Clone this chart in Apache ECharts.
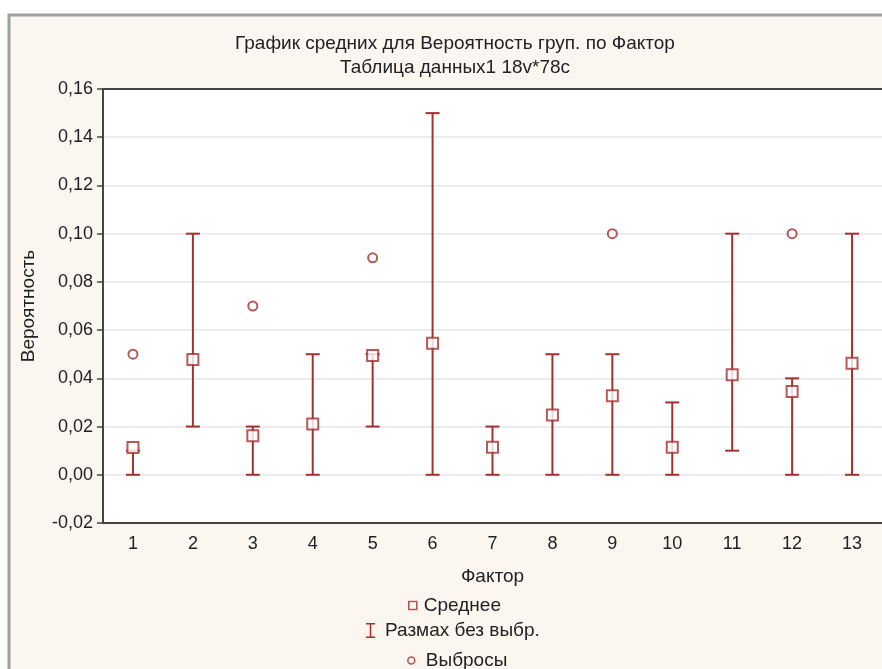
<!DOCTYPE html>
<html>
<head>
<meta charset="utf-8">
<script src="https://cdn.jsdelivr.net/npm/echarts@6/dist/echarts.min.js"></script>
<style>html,body{margin:0;padding:0;background:#fff}#c{width:882px;height:669px}</style>
</head>
<body>
<div id="c"></div>
<script>
// ---- data ----
const categories = ['1','2','3','4','5','6','7','8','9','10','11','12','13'];
const means   = [0.0113, 0.0478, 0.0162, 0.0211, 0.0495, 0.0546, 0.0114, 0.0248, 0.0328, 0.0114, 0.0415, 0.0345, 0.0463];
const lows    = [0, 0.02, 0, 0, 0.02, 0, 0, 0, 0, 0, 0.01, 0, 0];
const highs   = [0.01, 0.10, 0.02, 0.05, 0.05, 0.15, 0.02, 0.05, 0.05, 0.03, 0.10, 0.04, 0.10];
const outliers= [0.05, null, 0.07, null, 0.09, null, null, null, 0.10, null, null, 0.10, null];
const yTicks  = {min: -0.02, max: 0.16, interval: 0.02};
const titleText = 'График средних для Вероятность груп. по Фактор';
const subText = 'Таблица данных1 18v*78c';
const names = {mean: 'Среднее', range: 'Размах без выбр.', out: 'Выбросы'};

const RED = '#a2312f';
const CREAM = '#fbf7f0';
const FONT = "'Liberation Sans', Arial, sans-serif";
const TXT = '#222';

const chart = echarts.init(document.getElementById('c'), null, {renderer: 'canvas'});
const rangeData = categories.map((c, i) => [i, lows[i], highs[i]]);

function legendText(padLeft) {
  return {fontFamily: FONT, fontSize: 19, color: TXT, padding: [0, 0, 0, padLeft]};
}

chart.setOption({
  backgroundColor: '#fff',
  animation: false,
  graphic: [{
    type: 'rect', z: -100, silent: true,
    shape: {x: 9, y: 15, width: 900, height: 700},
    style: {fill: CREAM, stroke: '#a0a0a0', lineWidth: 3}
  }],
  title: [
    {text: titleText, left: 450, top: 29, textAlign: 'center',
     textStyle: {fontFamily: FONT, fontSize: 19, fontWeight: 'normal', color: TXT}},
    {text: subText, left: 450, top: 53, textAlign: 'center',
     textStyle: {fontFamily: FONT, fontSize: 19, fontWeight: 'normal', color: TXT}}
  ],
  legend: [
    {data: [{name: names.mean, icon: 'rect', itemStyle: {color: CREAM, borderColor: RED, borderWidth: 1.6}}],
     left: 408, top: 596, padding: 0, itemWidth: 8, itemHeight: 8, itemGap: 0, textStyle: legendText(2)},
    {data: [{name: names.range, icon: 'path://M0,0H12V2H7V18H12V20H0V18H5V2H0Z', itemStyle: {color: RED}}],
     left: 366, top: 621, padding: 0, itemWidth: 9, itemHeight: 17, itemGap: 0, textStyle: legendText(5)},
    {data: [{name: names.out, icon: 'circle', itemStyle: {color: CREAM, borderColor: RED, borderWidth: 1.6}}],
     left: 407, top: 651, padding: 0, itemWidth: 7, itemHeight: 7, itemGap: 0, textStyle: legendText(6)}
  ],
  grid: {left: 103, top: 89, width: 784, height: 434, show: true, backgroundColor: '#fff', borderWidth: 0},
  xAxis: [{
    type: 'category', data: categories, position: 'bottom',
    name: 'Фактор', nameLocation: 'middle', nameGap: 44,
    nameTextStyle: {fontFamily: FONT, fontSize: 19, color: TXT},
    axisLine: {onZero: false, lineStyle: {color: '#444', width: 2}},
    axisTick: {inside: true, length: 4, alignWithLabel: true, lineStyle: {color: '#444', width: 2}},
    axisLabel: {margin: 12, fontFamily: FONT, fontSize: 18, color: TXT},
    splitLine: {show: false}
  }, {
    type: 'category', data: categories, position: 'top',
    axisLine: {onZero: false, lineStyle: {color: '#444', width: 2}},
    axisTick: {inside: true, length: 4, alignWithLabel: true, lineStyle: {color: '#444', width: 2}},
    axisLabel: {show: false}, splitLine: {show: false}
  }],
  yAxis: {
    type: 'value', min: yTicks.min, max: yTicks.max, interval: yTicks.interval,
    name: 'Вероятность', nameLocation: 'middle', nameGap: 65,
    nameTextStyle: {fontFamily: FONT, fontSize: 19, color: TXT},
    axisLine: {show: true, lineStyle: {color: '#444', width: 2}},
    axisTick: {show: true, length: 6, lineStyle: {color: '#444', width: 1.5}},
    axisLabel: {margin: 10, fontFamily: FONT, fontSize: 18, color: TXT,
      formatter: v => v.toFixed(2).replace('.', ',')},
    splitLine: {show: true, lineStyle: {color: '#e6e6e6', width: 1.5}}
  },
  series: [{
    name: names.range, type: 'custom', xAxisIndex: 0, z: 2,
    itemStyle: {color: RED},
    data: rangeData,
    renderItem: function (params, api) {
      const x = api.value(0);
      const lo = api.coord([x, api.value(1)]);
      const hi = api.coord([x, api.value(2)]);
      const w = 7;
      const st = {stroke: RED, lineWidth: 2};
      return {type: 'group', children: [
        {type: 'line', shape: {x1: lo[0], y1: lo[1], x2: hi[0], y2: hi[1]}, style: st},
        {type: 'line', shape: {x1: lo[0] - w, y1: lo[1], x2: lo[0] + w, y2: lo[1]}, style: st},
        {type: 'line', shape: {x1: hi[0] - w, y1: hi[1], x2: hi[0] + w, y2: hi[1]}, style: st}
      ]};
    }
  }, {
    name: names.mean, type: 'scatter', xAxisIndex: 0, z: 3,
    symbol: 'emptyRect', symbolSize: 11,
    itemStyle: {color: RED, borderColor: RED, borderWidth: 2},
    data: means
  }, {
    name: names.out, type: 'scatter', xAxisIndex: 0, z: 3,
    symbol: 'emptyCircle', symbolSize: 9,
    itemStyle: {color: RED, borderColor: RED, borderWidth: 2},
    data: outliers
  }]
});
</script>
</body>
</html>
